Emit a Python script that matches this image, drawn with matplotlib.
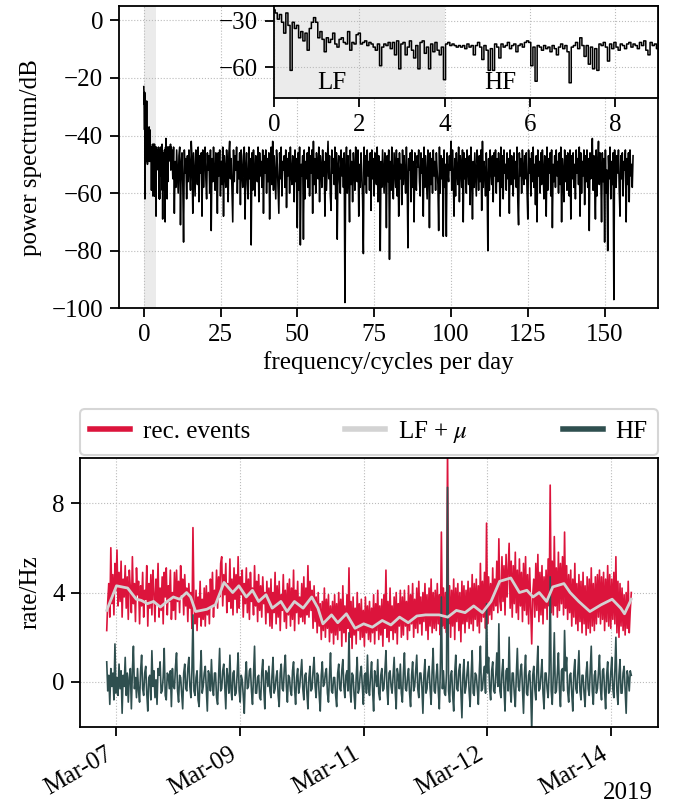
import matplotlib
matplotlib.use('Agg')
import matplotlib.pyplot as plt
import numpy as np

plt.rcParams['font.family'] = ['Liberation Serif', 'DejaVu Serif']
plt.rcParams['mathtext.fontset'] = 'stix'
plt.rcParams['font.size'] = 18
plt.rcParams['axes.linewidth'] = 1.3
plt.rcParams['xtick.major.width'] = 1.3
plt.rcParams['ytick.major.width'] = 1.3
plt.rcParams['xtick.major.size'] = 6.5
plt.rcParams['ytick.major.size'] = 6.5
plt.rcParams['xtick.major.pad'] = 5
plt.rcParams['ytick.major.pad'] = 5

# power spectrum, fine part (0 .. 9.15 cycles/day, step 0.05)
spec_lo_step = 0.05
spec_lo = [-23, -25, -29, -26, -31, -38, -25, -33, -62, -31, -35, -33, -41, -37, -43, -38, -49, -35, -31, -28,
           -31, -41, -37, -42, -50, -41, -44, -42, -38, -45, -47, -42, -41, -44, -45, -37, -49, -44, -45, -39,
           -38, -45, -44, -43, -46, -44, -45, -47, -49, -45, -59, -47, -45, -46, -44, -48, -44, -52, -43, -61,
           -45, -44, -52, -47, -43, -49, -54, -46, -61, -44, -43, -51, -47, -61, -45, -50, -44, -49, -52, -47,
           -68, -45, -44, -46, -45, -46, -47, -46, -47, -46, -48, -45, -47, -46, -52, -46, -44, -47, -55, -46,
           -49, -62, -48, -62, -45, -47, -54, -45, -47, -46, -44, -48, -46, -45, -50, -46, -45, -47, -44, -43,
           -44, -59, -47, -69, -46, -47, -49, -46, -48, -47, -50, -46, -48, -52, -47, -45, -48, -46, -50, -70,
           -47, -46, -44, -48, -41, -46, -53, -46, -58, -47, -61, -48, -62, -45, -46, -44, -47, -56, -45, -48,
           -44, -47, -49, -45, -46, -48, -45, -44, -47, -45, -46, -48, -44, -46, -43, -49, -52, -44, -46, -45,
           -48, -46, -47, -45]

# power spectrum, coarse part (9.2 .. 159.2 cycles/day, step 0.25)
spec_hi_start = 9.2
spec_hi_step = 0.25
spec_hi = [-46, -55, -44, -67, -49, -58, -45, -52, -60, -47, -44, -71, -50, -46, -57, -77, -45, -53, -48, -62,
           -47, -56, -45, -51, -59, -42, -48, -67, -46, -54, -61, -45, -50, -57, -44, -63, -47, -53, -46, -68,
           -45, -58, -49, -44, -55, -62, -46, -52, -47, -60, -45, -73, -48, -56, -44, -53, -59, -46, -51, -67,
           -46, -54, -45, -61, -49, -57, -44, -68, -47, -52, -58, -45, -50, -63, -46, -42, -55, -48, -59, -70,
           -45, -56, -47, -52, -44, -60, -49, -55, -46, -64, -45, -53, -58, -47, -44, -69, -51, -46, -57, -62,
           -44, -55, -48, -78, -46, -59, -45, -52, -61, -47, -50, -56, -44, -63, -46, -54, -49, -58, -45, -67,
           -47, -53, -45, -60, -48, -56, -46, -69, -51, -44, -57, -42, -59, -47, -54, -62, -45, -50, -58, -67,
           -46, -55, -44, -61, -49, -52, -47, -58, -45, -65, -48, -54, -46, -60, -44, -53, -57, -47, -51, -63,
           -45, -56, -48, -72, -46, -59, -44, -78, -50, -54, -47, -76, -45, -62, -49, -55, -46, -58, -44, -61,
           -47, -53, -45, -67, -42, -57, -48, -60, -46, -52, -55, -44, -63, -47, -51, -58, -45, -54, -49, -68,
           -46, -59, -50, -42, -55, -47, -61, -66, -45, -53, -48, -57, -44, -62, -46, -76, -51, -47, -56, -60,
           -45, -54, -48, -58, -46, -98, -52, -44, -60, -47, -55, -70, -45, -57, -49, -63, -46, -52, -59, -44,
           -48, -56, -45, -68, -50, -58, -46, -53, -62, -81, -44, -57, -47, -60, -45, -54, -49, -59, -46, -66,
           -45, -55, -48, -61, -46, -52, -57, -44, -63, -47, -54, -80, -49, -58, -45, -53, -60, -46, -51, -72,
           -47, -56, -45, -83, -49, -59, -44, -54, -62, -46, -52, -58, -45, -61, -48, -68, -46, -55, -50, -64,
           -45, -57, -47, -53, -60, -44, -55, -79, -48, -52, -46, -63, -45, -58, -49, -70, -46, -54, -59, -47,
           -51, -45, -56, -61, -46, -53, -48, -68, -44, -58, -47, -55, -62, -45, -50, -72, -46, -57, -48, -60,
           -45, -54, -49, -59, -46, -52, -57, -73, -44, -60, -47, -55, -48, -75, -45, -58, -50, -75, -46, -53,
           -56, -47, -52, -42, -59, -45, -54, -68, -48, -61, -46, -53, -57, -44, -63, -47, -51, -58, -45, -70,
           -46, -55, -48, -60, -45, -52, -57, -47, -64, -44, -53, -69, -49, -58, -46, -54, -61, -45, -50, -59,
           -47, -56, -45, -66, -42, -58, -49, -53, -61, -46, -55, -80, -48, -59, -45, -52, -57, -47, -63, -46,
           -54, -45, -60, -48, -56, -46, -52, -68, -44, -58, -47, -62, -45, -53, -50, -59, -46, -55, -48, -67,
           -45, -57, -47, -53, -61, -46, -55, -49, -58, -44, -63, -71, -46, -54, -48, -60, -45, -52, -57, -47,
           -55, -46, -59, -69, -45, -53, -48, -61, -46, -56, -44, -58, -50, -64, -47, -70, -45, -54, -49, -60,
           -46, -57, -45, -52, -62, -47, -55, -68, -44, -59, -48, -53, -46, -61, -45, -72, -50, -56, -47, -58,
           -45, -54, -49, -60, -46, -57, -44, -70, -48, -53, -63, -45, -56, -47, -59, -46, -52, -61, -45, -69,
           -47, -55, -46, -58, -50, -62, -45, -53, -48, -57, -44, -68, -46, -60, -49, -54, -45, -64, -47, -56,
           -45, -58, -48, -73, -46, -55, -52, -41, -59, -47, -54, -69, -45, -61, -50, -42, -57, -46, -53, -70,
           -46, -56, -48, -77, -45, -60, -52, -80, -47, -55, -44, -62, -49, -57, -46, -97, -45, -54, -58, -47,
           -53, -45, -59, -68, -47, -55, -46, -61, -49, -52, -45, -70, -48, -57, -46, -63, -45, -54, -50, -58,
           -47]

# rates, x in tick units (0 = Mar-07 ... 4 = Mar-14)
t_start = -0.079
t_end = 4.165
tick_labels = ['Mar-07', 'Mar-09', 'Mar-11', 'Mar-12', 'Mar-14']

rec_events = [
    2.3, 3.6, 4.4, 2.9, 6.0, 3.5, 4.8, 3.0, 5.3, 4.1, 5.9, 3.4, 4.9, 3.6, 5.4, 2.9, 4.6, 3.8, 5.2, 3.3, 4.7, 2.8, 5.0, 4.2, 3.1, 5.6, 3.5, 4.4, 2.7, 5.1, 3.9, 4.5,
    2.6, 4.3, 3.4, 4.9, 2.9, 4.1, 3.7, 5.2, 2.5, 4.4, 3.3, 4.8, 3.0, 5.0, 4.0, 2.7, 4.6, 3.5, 5.3, 2.9, 4.2, 3.2, 4.7, 2.6, 4.9, 3.8, 5.1, 3.0, 4.3, 3.6, 5.0, 2.8,
    4.0, 3.2, 4.9, 2.8, 5.0, 3.6, 4.5, 3.1, 5.2, 3.9, 4.6, 3.0, 4.8, 3.4, 4.2, 2.7, 4.4, 3.3, 4.0, 2.4, 6.9, 3.5, 2.6, 4.1, 2.3, 3.8, 2.9, 4.5, 2.5, 3.7, 2.8, 4.2,
    2.5, 4.3, 3.0, 4.0, 2.6, 4.6, 3.4, 4.9, 2.9, 4.1, 3.5, 5.0, 3.3, 4.7, 3.8, 5.3, 5.6, 3.4, 4.8, 3.9, 5.3, 3.1, 4.4, 3.6, 5.5, 3.3, 4.6, 3.0, 5.1, 3.7, 4.8, 3.1,
    5.6, 3.3, 4.7, 3.9, 5.0, 2.9, 4.4, 3.5, 5.1, 3.1, 4.6, 2.8, 4.9, 3.6, 4.2, 3.0, 5.2, 3.4, 4.5, 2.7, 4.8, 3.2, 4.3, 2.9, 4.7, 3.5, 4.0, 2.6, 4.5, 3.1, 4.2, 2.5,
    4.6, 2.4, 4.0, 3.1, 4.9, 2.6, 4.3, 2.9, 4.5, 2.3, 3.9, 3.2, 4.8, 2.7, 4.1, 2.4, 4.4, 3.0, 4.6, 2.5, 4.2, 2.8, 5.0, 2.3, 4.1, 3.1, 4.5, 2.6, 3.8, 2.9, 4.4, 2.7,
    4.7, 2.6, 4.2, 3.0, 5.2, 2.9, 4.5, 3.2, 4.1, 2.4, 4.3, 2.7, 3.8, 2.2, 4.0, 2.5, 3.5, 1.9, 3.6, 2.3, 4.2, 2.0, 3.7, 2.4, 3.9, 1.8, 3.4, 2.2, 3.6, 1.7, 3.9, 2.1,
    3.5, 1.9, 4.0, 2.3, 3.7, 1.6, 4.3, 2.2, 3.4, 1.8, 3.9, 2.4, 5.1, 2.0, 3.6, 1.5, 3.8, 2.1, 3.3, 1.7, 4.0, 2.3, 3.5, 1.9, 3.7, 2.0, 3.2, 1.6, 3.8, 2.2, 3.4, 1.9,
    3.6, 1.8, 3.3, 2.2, 3.9, 1.7, 3.5, 2.3, 4.1, 1.9, 3.4, 2.1, 3.7, 1.6, 3.9, 2.4, 5.0, 2.0, 3.6, 1.8, 4.2, 2.3, 3.4, 1.9, 3.8, 2.2, 4.0, 1.7, 3.5, 2.5, 4.1, 2.0,
    3.8, 2.1, 4.1, 2.5, 3.6, 1.9, 4.3, 2.3, 3.9, 2.6, 4.4, 2.0, 3.7, 2.4, 4.2, 2.2, 4.5, 2.6, 3.8, 2.1, 4.0, 2.7, 4.4, 2.3, 3.9, 1.9, 4.2, 2.5, 4.6, 2.2, 4.0, 2.4,
    4.1, 2.3, 4.4, 2.6, 3.9, 2.1, 6.7, 2.5, 4.2, 2.4, 4.0, 2.2, 10.5, 2.6, 4.3, 2.0, 4.1, 2.5, 4.6, 1.9, 4.2, 2.7, 4.4, 2.3, 4.0, 1.8, 4.5, 2.6, 4.3, 2.2, 4.1, 2.7,
    4.5, 2.4, 4.2, 2.6, 4.8, 2.3, 4.4, 2.8, 4.6, 2.5, 4.3, 2.2, 5.3, 2.7, 4.5, 2.9, 4.9, 2.4, 7.1, 2.6, 4.7, 3.0, 4.4, 2.8, 5.1, 3.2, 4.6, 3.4, 5.4, 3.1, 6.4, 3.6,
    3.2, 5.6, 3.6, 5.2, 3.0, 5.7, 3.8, 5.0, 6.2, 3.3, 5.4, 2.9, 5.2, 3.5, 5.8, 3.1, 5.0, 2.8, 5.5, 3.4, 4.9, 2.7, 5.3, 3.2, 5.6, 3.0, 4.8, 2.6, 5.1, 3.3, 1.7, 3.9,
    4.6, 2.9, 5.3, 3.2, 5.7, 2.7, 4.9, 3.0, 5.2, 2.6, 4.7, 3.3, 5.0, 2.8, 5.5, 3.4, 8.8, 3.1, 5.4, 3.0, 6.5, 3.4, 5.1, 2.9, 5.8, 3.2, 5.3, 3.5, 5.6, 3.0, 6.7, 3.3,
    5.2, 2.8, 4.8, 3.1, 5.0, 2.5, 4.6, 2.9, 5.3, 2.6, 4.4, 2.3, 4.8, 2.7, 4.5, 2.2, 4.9, 2.6, 4.3, 2.1, 4.7, 2.4, 4.6, 2.2, 5.1, 2.5, 4.4, 2.3, 4.7, 2.6, 4.8, 2.9,
    5.0, 2.6, 4.7, 2.8, 4.9, 2.3, 4.6, 2.7, 5.2, 2.5, 4.8, 2.4, 4.6, 2.8, 4.9, 2.6, 5.6, 2.2, 4.5, 2.0, 4.4, 2.5, 4.2, 2.3, 3.9, 2.1, 4.0, 2.4, 4.5, 2.2, 3.2, 4.0]

hf = [
    0.9, -0.4, 0.3, -1.0, 0.6, -0.2, 0.4, -0.8, 1.7, -0.5, 0.2, -0.6, 0.8, -0.3, 0.5, -1.4, 0.3, -0.2, 1.1, -0.6, 0.4, -0.9, 0.2, 0.6, -1.2, 0.5, 1.6, -0.3, 0.2, -0.7, 0.6, -0.4,
    -0.9, 0.5, 1.2, -0.3, -0.6, 0.4, 0.7, -0.5, -1.3, 0.2, 0.3, -0.8, 1.4, -0.2, 0.5, -0.7, 0.1, -1.0, 0.6, 0.3, 0.9, -0.5, -0.4, 0.2, 1.5, -0.6, -0.8, 0.4, 0.3, -0.3, 0.5, -1.1,
    0.6, -0.2, -0.3, 0.7, 1.3, -0.4, -0.9, 0.3, 0.2, -0.5, -1.2, 0.4, 0.8, -0.3, -0.4, 0.6, 1.1, -0.2, -0.7, 0.5, 3.0, -0.4, -0.6, 0.2, 0.5, -0.8, -1.1, 0.3, 1.4, -0.5, -0.2, 0.4,
    0.7, -0.3, -1.3, 0.5, 0.3, -0.4, 1.0, -0.2, -0.6, 0.4, 0.4, -0.7, -1.0, 0.3, 1.5, -0.4, -0.3, 0.5, 0.8, -0.2, -1.2, 0.6, 0.2, -0.5, 1.2, -0.3, -0.8, 0.4, 0.5, -0.6, -0.5, 0.3,
    1.3, -0.4, -0.9, 0.3, 0.1, -0.6, -1.4, 0.2, 0.9, -0.3, -0.2, 0.5, 0.6, -0.4, -1.0, 0.3, 1.6, -0.5, -0.5, 0.2, 0.3, -0.7, -0.8, 0.4, 1.0, -0.3, -1.2, 0.5, 0.4, -0.2, 0.7, -0.4,
    -0.7, 0.3, 1.1, -0.5, -0.3, 0.2, 0.5, -0.6, -1.1, 0.4, 0.8, -0.3, -0.4, 0.6, 1.2, -0.2, -0.9, 0.3, 0.2, -0.4, -0.6, 0.5, 0.9, -0.3, -1.0, 0.2, 0.6, -0.5, -0.2, 0.4, 1.0, -0.3,
    -0.8, 0.3, 0.4, -0.5, -1.2, 0.2, 0.7, -0.4, -0.3, 0.5, 1.1, -0.2, -0.7, 0.4, 0.3, -0.6, -1.3, 0.3, 0.9, -0.2, -0.1, 0.4, 0.6, -0.5, -0.9, 0.3, 1.3, -0.4, -0.5, 0.2, 0.2, -0.6,
    -1.1, 0.4, 0.8, -0.3, -0.4, 0.5, 1.0, -0.2, -0.7, 0.3, 0.5, -0.4, 2.2, -0.3, -0.9, 0.4, 0.3, -0.6, -1.2, 0.2, 1.1, -0.5, -0.3, 0.4, 0.7, -0.2, -1.0, 0.3, 0.4, -0.5, 1.2, -0.3,
    -0.6, 0.3, 0.9, -0.4, -1.3, 0.5, 0.2, -0.2, 1.0, -0.5, -0.8, 0.3, 0.6, -0.4, -0.3, 0.5, 1.4, -0.3, -1.0, 0.4, 0.5, -0.2, -0.5, 0.3, 1.1, -0.4, -1.2, 0.6, 0.3, -0.3, 0.8, -0.5,
    -0.9, 0.4, 1.3, -0.3, -0.4, 0.2, 0.6, -0.5, -1.1, 0.3, 0.9, -0.4, -0.2, 0.5, 1.2, -0.3, -0.7, 0.4, 0.4, -0.2, -1.4, 0.3, 1.0, -0.5, -0.3, 0.4, 0.7, -0.3, -1.0, 0.5, 1.5, -0.4,
    -0.5, 0.3, 0.8, -0.4, -1.2, 0.6, 3.8, -0.3, 0.5, -0.5, -0.6, 0.4, 8.7, -0.4, -0.9, 0.3, 0.5, -0.6, -1.3, 0.4, 1.2, -0.3, -0.4, 0.5, 0.8, -0.4, -1.6, 0.3, 1.0, -0.5, -0.2, 0.4,
    0.9, -0.4, -1.1, 0.3, 1.4, -0.5, -0.6, 0.4, 0.3, -0.3, -1.0, 0.5, 1.6, -0.4, -0.3, 0.3, 0.7, -0.5, 3.5, 0.4, 1.1, -0.3, -0.8, 0.5, 0.9, -0.4, -0.5, 0.3, 1.3, -0.2, 2.6, -0.4,
    -0.7, 0.4, 1.0, -0.3, -1.3, 0.5, 0.6, -0.4, 2.0, -0.3, -0.9, 0.4, 0.4, -0.5, -1.1, 0.3, 1.5, -0.2, -0.4, 0.5, 0.8, -0.3, -1.4, 0.4, 1.2, -0.5, -0.6, 0.3, 0.5, -0.4, -2.2, 0.3,
    0.7, -0.3, -0.8, 0.5, 1.6, -0.4, -0.3, 0.3, 1.0, -0.5, -1.2, 0.4, 0.4, -0.3, -0.7, 0.5, 4.7, -0.4, -1.0, 0.3, 2.2, -0.5, -0.4, 0.4, 1.3, -0.3, -1.1, 0.5, 0.6, -0.4, 2.3, 0.5,
    1.1, -0.4, -0.9, 0.3, 0.4, -0.5, -1.3, 0.4, 1.0, -0.3, -0.5, 0.5, 1.4, -0.4, -0.8, 0.3, 0.3, -0.5, -1.1, 0.4, 0.9, -0.3, -0.6, 0.5, 1.6, -0.4, -1.0, 0.3, 0.5, -0.5, -0.3, 0.4,
    1.2, -0.3, -0.8, 0.5, 0.6, -0.4, -1.2, 0.3, 0.9, -0.5, -0.4, 0.4, 1.1, -0.3, -0.7, 0.5, 2.0, -0.4, -1.0, 0.3, 1.0, -0.5, -0.5, 0.4, 0.7, -0.3, -1.4, 0.5, 0.2, -0.4, 0.5, 0.3]

# smooth LF + mu curve
lf_t = [-0.079, 0.0, 0.09, 0.16, 0.2, 0.25, 0.3, 0.355, 0.41, 0.46, 0.51, 0.567, 0.6, 0.64,
        0.73, 0.8, 0.87, 0.94, 0.99, 1.05, 1.1, 1.15, 1.21, 1.26, 1.33, 1.38, 1.44, 1.51,
        1.58, 1.63, 1.67, 1.74, 1.79, 1.86, 1.93, 2.0, 2.07, 2.15, 2.22, 2.29, 2.36, 2.43,
        2.5, 2.61, 2.68, 2.75, 2.82, 2.89, 2.96, 3.03, 3.1, 3.19, 3.26, 3.32, 3.37, 3.42,
        3.48, 3.53, 3.62, 3.67, 3.74, 3.83, 3.92, 4.01, 4.08, 4.11, 4.165]
lf_mu = [3.2, 4.3, 4.2, 3.7, 3.65, 3.5, 3.6, 3.35, 3.6, 3.8, 3.7, 4.0, 3.8, 3.15,
         3.25, 3.45, 4.45, 4.0, 4.3, 3.8, 4.1, 3.6, 3.9, 3.3, 3.6, 3.15, 3.6, 3.3,
         3.8, 3.3, 2.6, 3.0, 2.65, 3.05, 2.4, 2.6, 2.45, 2.75, 2.55, 2.9, 2.65, 2.95,
         3.0, 3.0, 2.9, 3.2, 3.1, 3.4, 3.1, 3.6, 4.5, 4.65, 4.0, 4.1, 3.8, 4.0,
         3.6, 4.25, 4.4, 4.0, 3.6, 3.15, 3.45, 3.7, 3.3, 3.05, 3.7]

freq = np.concatenate([np.arange(len(spec_lo)) * spec_lo_step,
                       spec_hi_start + np.arange(len(spec_hi)) * spec_hi_step])
power = np.concatenate([spec_lo, spec_hi])
t = np.linspace(t_start, t_end, len(hf))

fig = plt.figure(figsize=(6.88, 8.09), dpi=100)

# top: spectrum
ax = fig.add_axes([0.1734, 0.6189, 0.7823, 0.3737])
ax.axvspan(0, 4, color='#ebebeb', zorder=0, lw=0)
ax.plot(freq, power, color='k', lw=1.15)
ax.set_ylim(-100, 5)
ax.set_yticks(np.arange(-100, 1, 20))
ax.set_xticks(np.arange(0, 151, 25))
ax.grid(True, ls=':', color='#bbbbbb', lw=0.8)
ax.set_xlabel('frequency/cycles per day')
ax.set_ylabel('power spectrum/dB')
ax.yaxis.set_label_coords(-0.144, 0.5)
ax.xaxis.set_label_coords(0.5, -0.14)

# inset
axi = fig.add_axes([0.3984, 0.8785, 0.5573, 0.1141])
axi.axvspan(0, 4, color='#ebebeb', zorder=0, lw=0)
axi.plot(freq, power, color='k', lw=1.1, drawstyle='steps-mid')
axi.set_xlim(0, 9)
axi.set_ylim(-80, -20.5)
axi.set_yticks([-30, -60])
axi.set_xticks([0, 2, 4, 6, 8])
axi.grid(True, ls=':', color='#bbbbbb', lw=0.8)
axi.text(1.35, -70, 'LF', ha='center', va='center')
axi.text(5.3, -70, 'HF', ha='center', va='center')

# bottom: rates
ax2 = fig.add_axes([0.117, 0.1017, 0.8387, 0.3318])
l1, = ax2.plot(t, rec_events, color='crimson', lw=1.2, label='rec. events')
l3, = ax2.plot(t, hf, color='darkslategray', lw=1.2, label='HF')
l2, = ax2.plot(lf_t, lf_mu, color='lightgray', lw=2.0, label=r'LF + $\mu$')
ax2.set_ylim(-2, 10)
ax2.set_yticks([0, 4, 8])
ax2.set_xticks(range(len(tick_labels)))
ax2.set_xticklabels(tick_labels, rotation=30, ha='right')
ax2.grid(True, ls=':', color='#bbbbbb', lw=0.8)
ax2.set_ylabel('rate/Hz')
ax2.yaxis.set_label_coords(-0.067, 0.5)
ax2.text(0.992, -0.205, '2019', transform=ax2.transAxes, ha='right', va='top')

leg = ax2.legend([l1, l2, l3], ['rec. events', r'LF + $\mu$', 'HF'], loc='lower left',
                 bbox_to_anchor=(0, 1.012, 1, 0.1), mode='expand', ncol=3, borderaxespad=0,
                 handlelength=1.6, handletextpad=0.5, fancybox=True, edgecolor='#cccccc')
leg.get_frame().set_linewidth(1.5)
for h in leg.legend_handles:
    h.set_linewidth(4)

fig.savefig('out.png', dpi=100)
